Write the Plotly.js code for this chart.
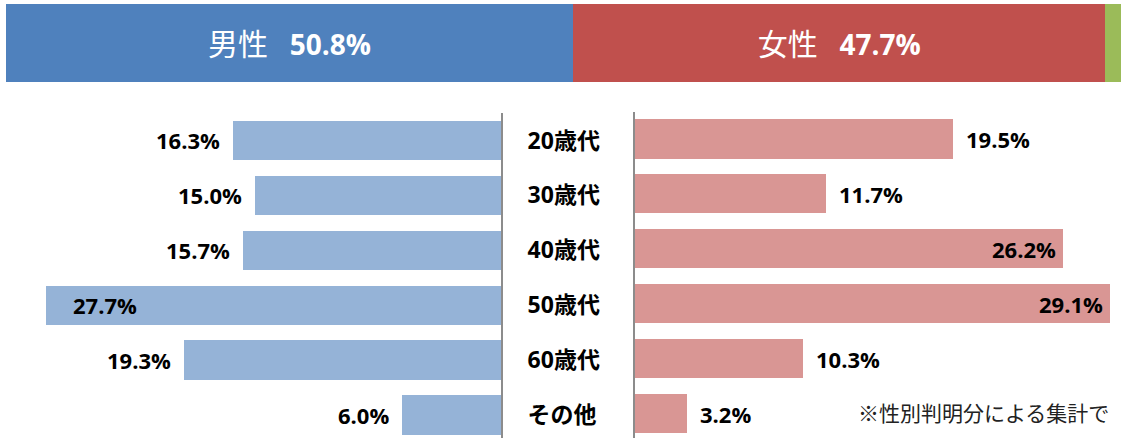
<!DOCTYPE html>
<html>
<head>
<meta charset="utf-8">
<script src="https://cdn.plot.ly/plotly-3.0.1.min.js"></script>
<style>html,body{margin:0;padding:0;background:#fff;} #chart{width:1121px;height:438px;}</style>
</head>
<body>
<div id="chart"></div>
<script>
// ---- data ----
const genderNames = ['男性', '女性', '不明'];
const genderValues = [50.8, 47.7, 1.5];
const ageGroups = ['20歳代', '30歳代', '40歳代', '50歳代', '60歳代', 'その他'];
const maleValues = [16.3, 15.0, 15.7, 27.7, 19.3, 6.0];
const femaleValues = [19.5, 11.7, 26.2, 29.1, 10.3, 3.2];
const noteText = '※性別判明分による集計で';

// ---- styles ----
const genderColors = ['#4F81BD', '#C0504D', '#9BBB59'];
const maleColor = '#95B3D7';
const femaleColor = '#D99694';
const FONT = 'Open Sans, Noto Sans CJK JP, sans-serif';
const W = 1121, H = 438;
const px = v => v / W;
const py = v => 1 - v / H;

const traces = [];
genderNames.forEach((n, i) => {
  traces.push({
    type: 'bar', orientation: 'h',
    x: [genderValues[i]], y: [0],
    xaxis: 'x', yaxis: 'y', width: 1,
    marker: {color: genderColors[i], line: {width: 0}},
    text: [i < 2 ? `<span style="font-size:30px">${n}</span>&nbsp;&nbsp;&nbsp;<b>${genderValues[i].toFixed(1)}%</b>` : ''],
    textposition: 'inside', insidetextanchor: 'middle',
    textfont: {color: '#ffffff', size: 28, family: FONT},
    constraintext: 'none',
    hoverinfo: 'skip'
  });
});

traces.push({
  type: 'bar', orientation: 'h',
  x: maleValues, y: ageGroups,
  xaxis: 'x2', yaxis: 'y2', width: 0.713,
  marker: {color: maleColor, line: {width: 0}},
  hoverinfo: 'skip'
});
traces.push({
  type: 'bar', orientation: 'h',
  x: femaleValues, y: ageGroups,
  xaxis: 'x3', yaxis: 'y3', width: 0.71,
  marker: {color: femaleColor, line: {width: 0}},
  hoverinfo: 'skip'
});

const annotations = [];
const labelFont = {family: FONT, size: 22, color: '#000000', weight: 'bold'};
maleValues.forEach((v, i) => {
  const inside = v > 25;
  annotations.push({
    xref: 'x2', yref: 'y2', x: v, y: ageGroups[i],
    text: v.toFixed(1) + '%', showarrow: false,
    xanchor: inside ? 'left' : 'right', xshift: inside ? 25 : -11,
    yanchor: 'middle', font: labelFont
  });
});
femaleValues.forEach((v, i) => {
  const inside = v > 25;
  annotations.push({
    xref: 'x3', yref: 'y3', x: v, y: ageGroups[i],
    text: v.toFixed(1) + '%', showarrow: false,
    xanchor: inside ? 'right' : 'left', xshift: inside ? -5 : 11,
    yanchor: 'middle', font: labelFont
  });
});
annotations.push({
  xref: 'paper', yref: 'paper', x: px(856), y: py(412),
  xanchor: 'left', yanchor: 'middle', showarrow: false,
  text: noteText, font: {family: 'Noto Sans CJK JP, sans-serif', size: 21, color: '#222222'}
});

const hidden = {showgrid: false, zeroline: false, showticklabels: false, ticks: '', showline: false, fixedrange: true};

const layout = {
  width: W, height: H,
  margin: {l: 0, r: 0, t: 0, b: 0, pad: 0},
  paper_bgcolor: '#ffffff', plot_bgcolor: 'rgba(0,0,0,0)',
  showlegend: false, barmode: 'stack', bargap: 0,
  font: {family: FONT},
  xaxis: Object.assign({}, hidden, {domain: [px(6), 1], range: [0, 99.9], anchor: 'y'}),
  yaxis: Object.assign({}, hidden, {domain: [py(82), py(4)], range: [-0.5, 0.5], anchor: 'x'}),
  xaxis2: Object.assign({}, hidden, {domain: [0, px(501)], range: [501 / 16.43, 0], anchor: 'y2'}),
  yaxis2: Object.assign({}, hidden, {
    domain: [0, py(113)], range: [5.42, -0.5], anchor: 'x2',
    type: 'category', categoryorder: 'array', categoryarray: ageGroups,
    side: 'right', showline: true, linecolor: '#8c8c8c', linewidth: 2,
    showticklabels: true, ticklabelstandoff: 20,
    tickfont: {family: FONT, size: 23, color: '#000000', weight: 'bold'}
  }),
  xaxis3: Object.assign({}, hidden, {domain: [px(635), 1], range: [0, 486 / 16.32], anchor: 'y3'}),
  yaxis3: Object.assign({}, hidden, {
    domain: [0, py(111.5)], range: [5.44, -0.5], anchor: 'x3',
    type: 'category', categoryorder: 'array', categoryarray: ageGroups,
    side: 'left', showline: true, linecolor: '#8c8c8c', linewidth: 2
  }),
  annotations: annotations
};

Plotly.newPlot('chart', traces, layout, {displayModeBar: false, staticPlot: true});
</script>
</body>
</html>
